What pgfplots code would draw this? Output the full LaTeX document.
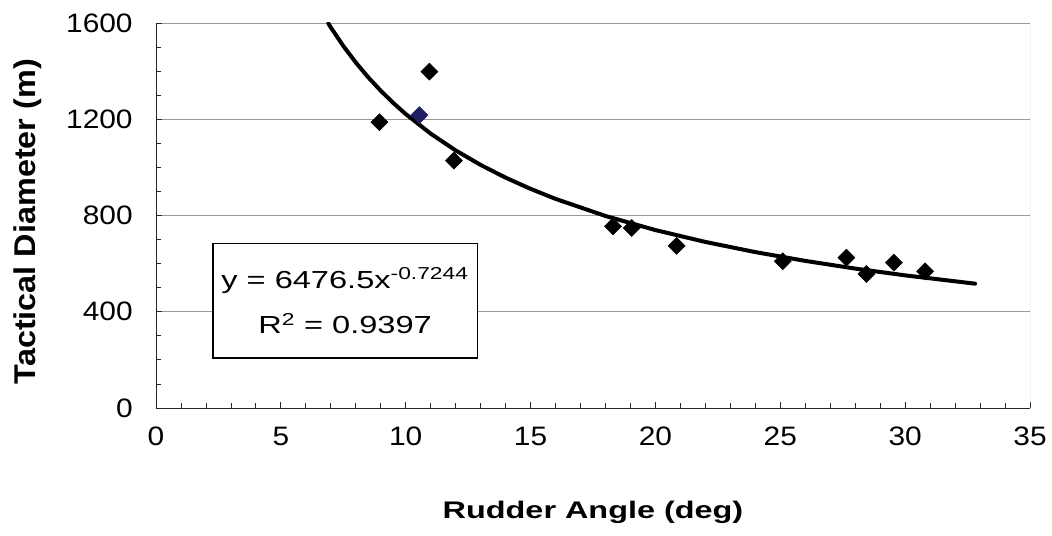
\documentclass[border=0pt]{standalone}
\usepackage{fontspec}
\setmainfont{Liberation Sans}
\newfontfamily\tickfont{Liberation Sans}[FakeStretch=1.12]
\newfontfamily\lblfont{Liberation Sans}[FakeStretch=1.35]
\newfontfamily\ylblfont{Liberation Sans}[FakeStretch=1.08]
\newfontfamily\eqfont{Liberation Sans}[FakeStretch=1.32]
\usepackage{pgfplots}
\pgfplotsset{compat=1.18}
\definecolor{navy}{rgb}{0.12,0.12,0.38}
\begin{document}
\begin{tikzpicture}
\begin{axis}[
  scale only axis, width=655.5pt, height=288.75pt,
  xmin=0, xmax=35, ymin=0, ymax=1600,
  axis lines=left, axis line style={-, black!85, line width=0.7pt},
  xtick={0,5,...,35}, ytick={0,400,...,1600},
  minor x tick num=4, minor y tick num=3,
  tick align=inside, major tick length=4.5pt, minor tick length=4pt,
  tick style={black!85, line width=0.6pt},
  ymajorgrids, grid style={black!40, line width=0.7pt},
  /pgf/number format/assume math mode=true,
  scaled y ticks=false,
  y tick label style={/pgf/number format/1000 sep={}},
  ticklabel style={font=\tickfont\fontsize{20}{22}\selectfont},
  yticklabel style={xshift=-14pt},
  xticklabel style={yshift=-11pt},
  every axis x label/.style={at={(axis description cs:0.5,-0.286)}, anchor=base,
    font=\lblfont\bfseries\fontsize{18}{20}\selectfont},
  every axis y label/.style={at={(axis description cs:-0.1384,0.484)}, anchor=base, rotate=90,
    font=\ylblfont\bfseries\fontsize{22.5}{24}\selectfont},
  xlabel={Rudder Angle (deg)},
  ylabel={Tactical Diameter (m)},
]
\draw[black!40, line width=0.7pt] (axis cs:35,0) -- (axis cs:35,1600);
% power trendline y = 6476.5 x^-0.7244 (precomputed values)
\addplot[black, line width=3pt, line cap=round] coordinates {
 (6.9,1598.5) (7,1581.8) (7.5,1504.7) (8,1435.9) (8.5,1374.2) (9,1318.5)
 (9.5,1267.8) (10,1221.6) (11,1140.1) (12,1070.4) (13,1010.2) (14,957.3)
 (15,910.7) (16,869.1) (18,798.0) (20,739.4) (22,690.1) (24,647.9)
 (26,611.4) (28,579.4) (30,551.2) (32.8,516.7)
};
\addplot[only marks, mark=square*, mark size=4.5pt, mark options={rotate=45}, black] coordinates {
 (8.95,1188) (10.95,1398) (11.93,1028) (18.3,755) (19.05,748) (20.85,674)
 (25.1,610) (27.65,625) (28.45,557) (29.55,604) (30.8,568)
};
\addplot[only marks, mark=square*, mark size=4.5pt, mark options={rotate=45}, navy] coordinates {
 (10.55,1217)
};
\node[draw=black, fill=white, line width=0.8pt, minimum width=198pt,
  minimum height=86pt, align=center, inner sep=0pt,
  font=\eqfont\fontsize{18.5}{34}\selectfont] at (axis cs:7.57,446)
  {y = 6476.5x\textsuperscript{-0.7244}\\R\textsuperscript{2} = 0.9397};
\end{axis}
\path (-117pt,-95.25pt) rectangle (672pt,306pt);
\end{tikzpicture}
\end{document}
